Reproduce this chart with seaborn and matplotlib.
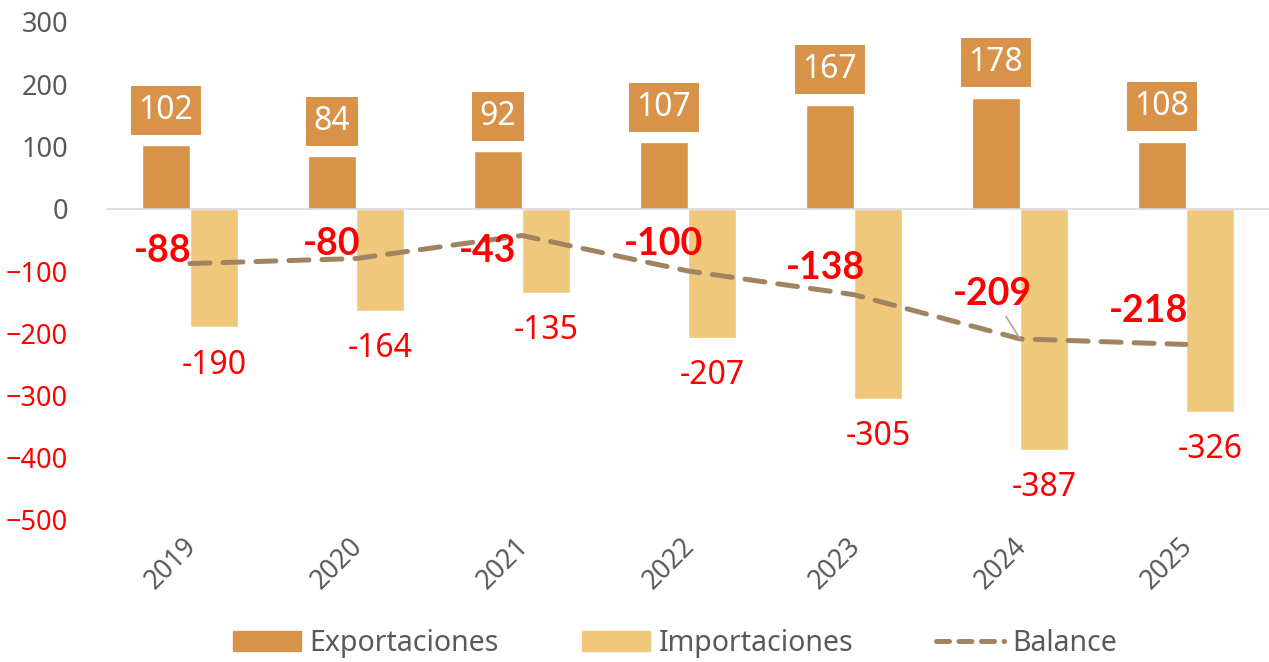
import pandas as pd
import seaborn as sns
import matplotlib.pyplot as plt
import matplotlib.transforms as mtransforms
from matplotlib.patches import Patch
from matplotlib.lines import Line2D

# Data
years = ['2019', '2020', '2021', '2022', '2023', '2024', '2025']
exportaciones = [102, 84, 92, 107, 167, 178, 108]
importaciones = [-190, -164, -135, -207, -305, -387, -326]
balance = [-88, -80, -43, -100, -138, -209, -218]

# Colours
c_exp = '#D8924A'
c_imp = '#F0C87C'
c_bal = '#A08462'
grey = '#595959'
red = '#FF0000'

# Long-form table for seaborn
df = pd.DataFrame({
    'year': years * 2,
    'value': exportaciones + importaciones,
    'serie': ['Exportaciones'] * len(years) + ['Importaciones'] * len(years),
})

sns.set_style('white')
plt.rcParams['font.family'] = ['Noto Sans', 'DejaVu Sans']

fig = plt.figure(figsize=(12.69, 6.62), dpi=100)
ax = fig.add_axes([107 / 1269, 142 / 662, 1 - 107 / 1269, 498 / 662])

sns.barplot(data=df, x='year', y='value', hue='serie',
            palette=[c_exp, c_imp], width=0.58, saturation=1,
            legend=False, ax=ax)

# Balance line at the category centres
xpos = list(range(len(years)))
ax.plot(xpos, balance, color=c_bal, lw=3.6, linestyle=(0, (4, 2.6)),
        dash_capstyle='round', zorder=4)

ax.set_ylim(-500, 300)
ax.set_xlim(-0.5, 6.461)
ax.set_yticks(range(-500, 301, 100))
ax.set_xlabel('')
ax.set_ylabel('')

# y tick labels: grey for >= 0, red for negatives
ax.tick_params(axis='y', length=0, pad=28, labelsize=19.5)
for lab, val in zip(ax.get_yticklabels(), ax.get_yticks()):
    lab.set_color(red if val < 0 else grey)

# category axis sits on zero, labels pushed to the bottom
for s in ['left', 'right', 'top']:
    ax.spines[s].set_visible(False)
ax.spines['bottom'].set_position(('data', 0))
ax.spines['bottom'].set_color('#D9D9D9')
ax.spines['bottom'].set_linewidth(1.2)
ax.set_xticks(xpos)
ax.set_xticklabels(years, rotation=45, ha='right', color=grey, fontsize=19)
ax.tick_params(axis='x', which='major', length=0, pad=233)
shift = mtransforms.ScaledTranslation(12 / 100, 0, fig.dpi_scale_trans)
for lab in ax.get_xticklabels():
    lab.set_transform(lab.get_transform() + shift)
ax.set_xticks([p - 0.5 for p in xpos] + [len(years) - 0.5], minor=True)
ax.tick_params(axis='x', which='minor', length=7, width=1.2, color='#D9D9D9',
               direction='out')

# export labels: white text in orange box above the bar
for bar, v in zip(ax.containers[0], exportaciones):
    ax.annotate(str(v), (bar.get_x() + bar.get_width() / 2, bar.get_height()),
                xytext=(0, 35), textcoords='offset pixels', ha='center',
                va='center', color='white', fontsize=23,
                bbox=dict(boxstyle='square,pad=0.25', fc=c_exp, ec='none'))

# import labels: red text below the bar
for bar, v in zip(ax.containers[1], importaciones):
    ax.annotate(str(v), (bar.get_x() + bar.get_width() / 2, bar.get_height()),
                xytext=(0, -38), textcoords='offset pixels', ha='center',
                va='center', color=red, fontsize=23)

# balance labels, placed by hand like the original
bal_offsets = [(-27, 13), (-24, 15), (-34, -15), (-24, 27), (-29, 27), (-28, 45), (-37, 33)]
for i, (v, off) in enumerate(zip(balance, bal_offsets)):
    arrow = None
    if i == 5:
        arrow = dict(arrowstyle='-', color='#A6A6A6', lw=1.2, shrinkA=2, shrinkB=0)
    ax.annotate(str(v), (xpos[i], v), xytext=off, textcoords='offset pixels',
                ha='center', va='center', color=red, fontsize=27,
                family=['Lato', 'DejaVu Sans'], fontweight='bold', zorder=5,
                arrowprops=arrow)

# legend at the bottom
handles = [Patch(color=c_exp, label='Exportaciones'),
           Patch(color=c_imp, label='Importaciones'),
           Line2D([0], [0], color=c_bal, lw=3.6, linestyle=(0, (2.6, 1.9)),
                  dash_capstyle='round', label='Balance')]
leg = fig.legend(handles=handles, loc='center', bbox_to_anchor=(0.532, 0.028),
                 ncol=3, frameon=False, fontsize=20.5, handlelength=2.4,
                 handleheight=0.68, handletextpad=0.3, columnspacing=2.9)
for t in leg.get_texts():
    t.set_color(grey)

fig.savefig('out.png', dpi=100)
